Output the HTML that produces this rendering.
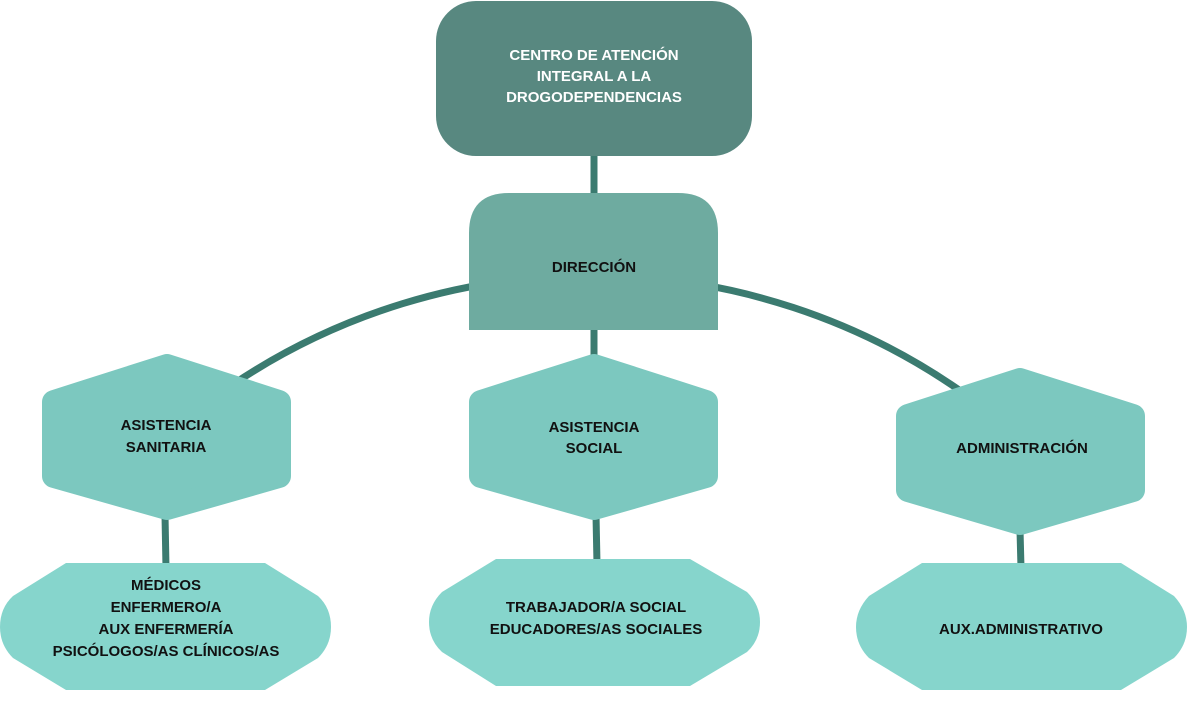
<!DOCTYPE html>
<html><head><meta charset="utf-8"><style>
html,body{margin:0;padding:0;background:#fff;overflow:hidden;width:1187px;height:722px;}
svg{display:block;}
text{font-family:"Liberation Sans",sans-serif;font-size:15px;font-weight:bold;text-anchor:middle;fill:#111;}
</style></head><body>
<svg width="1187" height="722" viewBox="0 0 1187 722" xmlns="http://www.w3.org/2000/svg">
<path d="M232 385 A 645 645 0 0 1 962 392" fill="none" stroke="#3b7b70" stroke-width="7"/>
<g stroke="#3b7b70" stroke-width="7">
<line x1="594" y1="150" x2="594" y2="200"/>
<line x1="594" y1="325" x2="594" y2="360"/>
<line x1="165" y1="515" x2="166" y2="568"/>
<line x1="596" y1="515" x2="597" y2="564"/>
<line x1="1020" y1="530" x2="1021" y2="568"/>
</g>
<rect x="436" y="1" width="316" height="155" rx="40" fill="#588880"/>
<path d="M469 330 V233 Q469 193 509 193 H678 Q718 193 718 233 V330 Z" fill="#6eaba0"/>
<g fill="#7cc8bf" stroke="#7cc8bf" stroke-width="24" stroke-linejoin="round">
<polygon points="167,366 279,402 279,476 167,508 54,476 54,402"/>
<polygon points="594,366 706,402 706,476 594,508 481,476 481,402"/>
<polygon points="1020,380 1133,416 1133,490 1020,523 908,490 908,416"/>
</g>
<g fill="#86d5cc">
<path d="M66 563 H265 L318 596 Q331 608 331 627 Q331 645 318 658 L265 690 H66 L13 658 Q0 645 0 627 Q0 608 13 596 Z"/>
<path d="M496 559 H690 L747 592 Q760 605 760 622 Q760 640 747 652 L690 686 H496 L442 652 Q429 640 429 622 Q429 605 442 592 Z"/>
<path d="M922 563 H1121 L1174 596 Q1187 610 1187 627 Q1187 645 1174 658 L1121 690 H922 L869 658 Q856 645 856 627 Q856 610 869 596 Z"/>
</g>
<text x="594" y="60" style="fill:#fff">CENTRO DE ATENCIÓN</text>
<text x="594" y="81" style="fill:#fff">INTEGRAL A LA</text>
<text x="594" y="102" style="fill:#fff">DROGODEPENDENCIAS</text>
<text x="594" y="272">DIRECCIÓN</text>
<text x="166" y="430">ASISTENCIA</text>
<text x="166" y="452">SANITARIA</text>
<text x="594" y="432">ASISTENCIA</text>
<text x="594" y="453">SOCIAL</text>
<text x="1022" y="453">ADMINISTRACIÓN</text>
<text x="166" y="590">MÉDICOS</text>
<text x="166" y="612">ENFERMERO/A</text>
<text x="166" y="634">AUX ENFERMERÍA</text>
<text x="166" y="656">PSICÓLOGOS/AS CLÍNICOS/AS</text>
<text x="596" y="612">TRABAJADOR/A SOCIAL</text>
<text x="596" y="634">EDUCADORES/AS SOCIALES</text>
<text x="1021" y="634">AUX.ADMINISTRATIVO</text>
</svg>
</body></html>
